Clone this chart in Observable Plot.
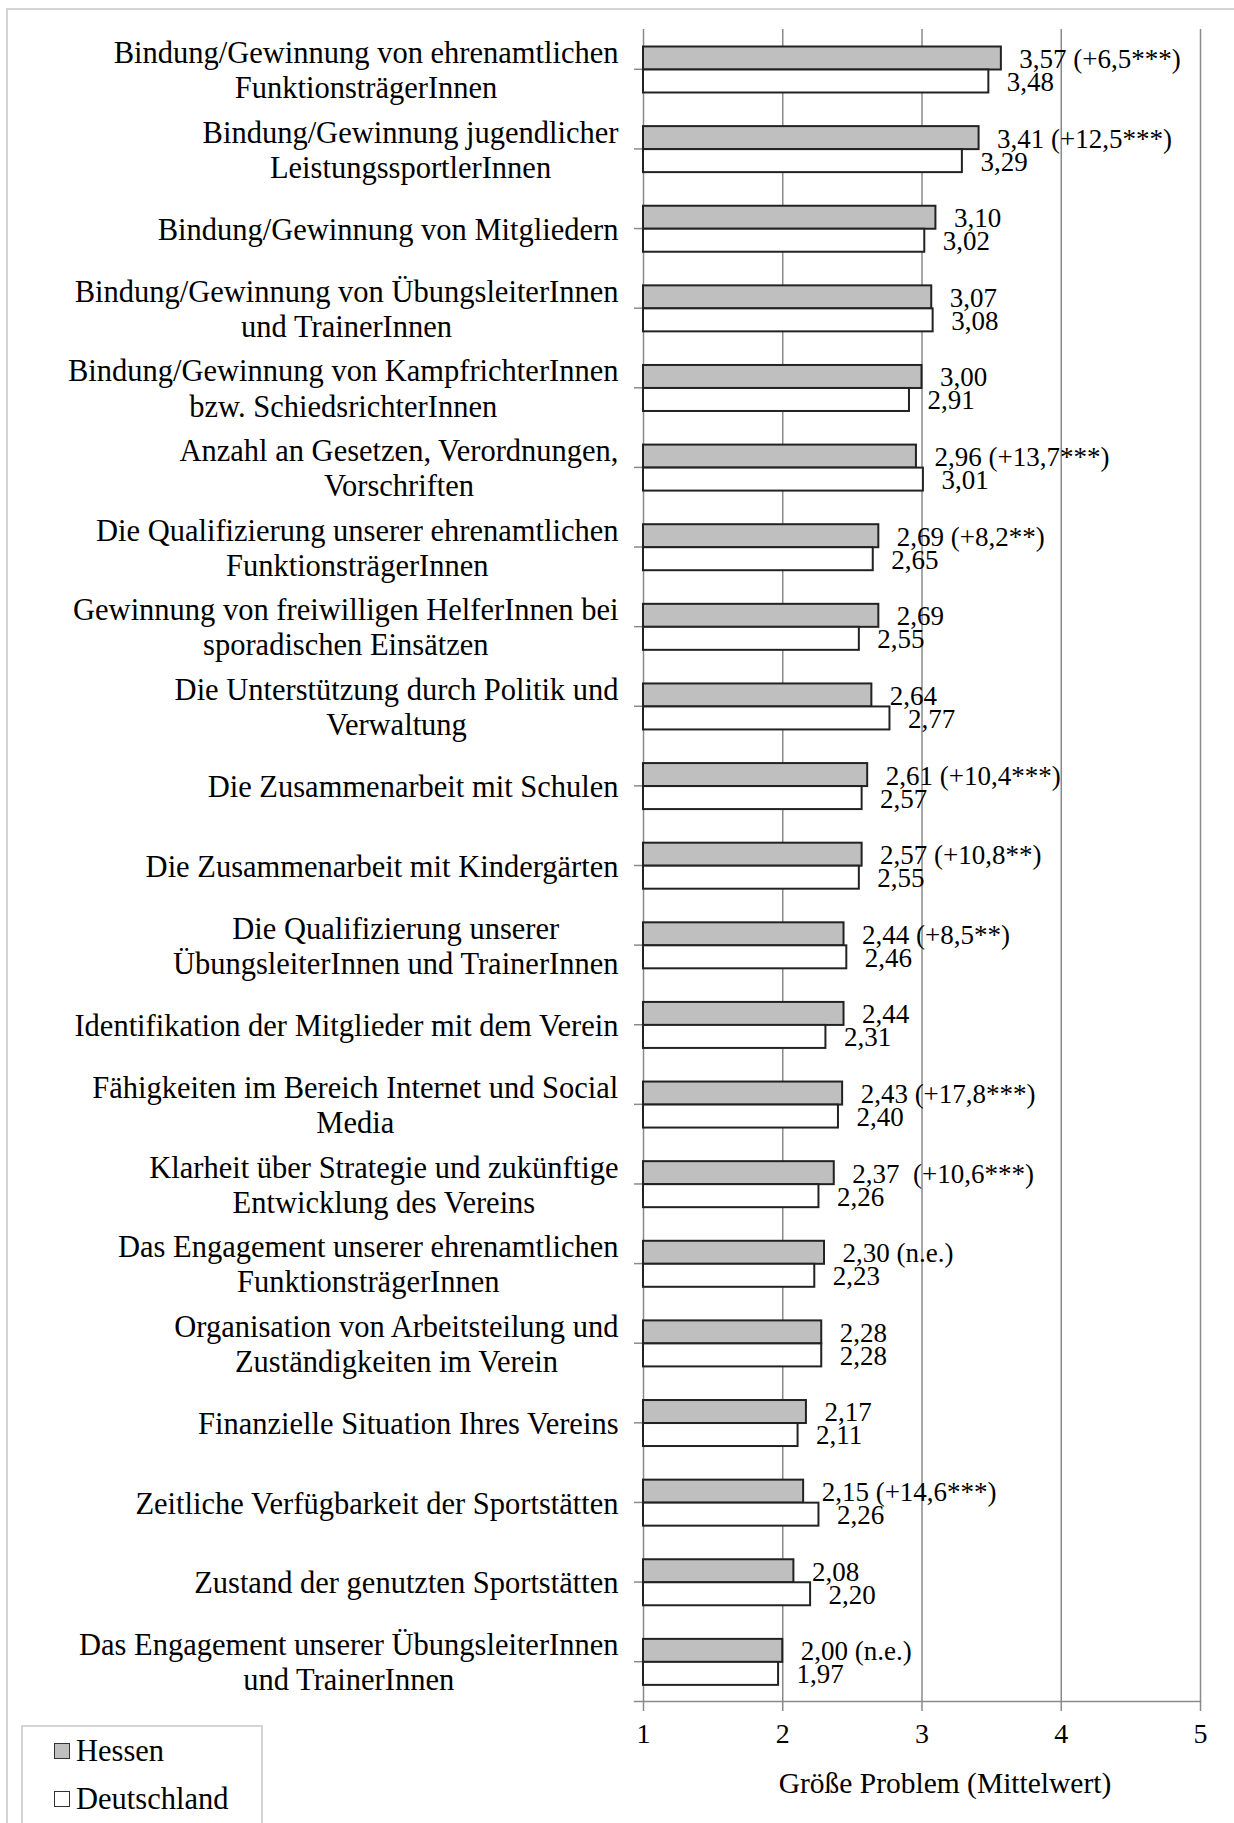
<!DOCTYPE html>
<html>
<head>
<meta charset="utf-8">
<script src="https://cdn.jsdelivr.net/npm/d3@7"></script>
<script src="https://cdn.jsdelivr.net/npm/@observablehq/plot@0.6"></script>
<style>
  html, body { margin: 0; padding: 0; background: #fff; }
  #wrap { position: relative; width: 1234px; height: 1823px; overflow: hidden; }
  #outer { position: absolute; left: 6px; top: 8px; width: 1400px; height: 2000px;
           border-left: 2px solid #d4d4d4; border-top: 2px solid #d4d4d4; }
  #chart { position: absolute; left: 0; top: 0; }
  #legend { position: absolute; left: 21px; top: 1725px; width: 238px; height: 160px;
            border: 2px solid #d4d4d4; background: #fff;
            font-family: "Liberation Serif", "Times New Roman", serif; font-size: 30.5px; color: #000; }
  .row { position: absolute; left: 31px; height: 34px; display: flex; align-items: center; }
  .sw { width: 14px; height: 14px; border: 1.5px solid #333; margin-right: 6px; }
</style>
</head>
<body>
<div id="wrap">
  <div id="outer"></div>
  <div id="chart"></div>
  <div id="legend"></div>
</div>
<script>
const categories = [
  "Bindung/Gewinnung von ehrenamtlichen\nFunktionsträgerInnen",
  "Bindung/Gewinnung jugendlicher\nLeistungssportlerInnen",
  "Bindung/Gewinnung von Mitgliedern",
  "Bindung/Gewinnung von ÜbungsleiterInnen\nund TrainerInnen",
  "Bindung/Gewinnung von KampfrichterInnen\nbzw. SchiedsrichterInnen",
  "Anzahl an Gesetzen, Verordnungen,\nVorschriften",
  "Die Qualifizierung unserer ehrenamtlichen\nFunktionsträgerInnen",
  "Gewinnung von freiwilligen HelferInnen bei\nsporadischen Einsätzen",
  "Die Unterstützung durch Politik und\nVerwaltung",
  "Die Zusammenarbeit mit Schulen",
  "Die Zusammenarbeit mit Kindergärten",
  "Die Qualifizierung unserer\nÜbungsleiterInnen und TrainerInnen",
  "Identifikation der Mitglieder mit dem Verein",
  "Fähigkeiten im Bereich Internet und Social\nMedia",
  "Klarheit über Strategie und zukünftige\nEntwicklung des Vereins",
  "Das Engagement unserer ehrenamtlichen\nFunktionsträgerInnen",
  "Organisation von Arbeitsteilung und\nZuständigkeiten im Verein",
  "Finanzielle Situation Ihres Vereins",
  "Zeitliche Verfügbarkeit der Sportstätten",
  "Zustand der genutzten Sportstätten",
  "Das Engagement unserer ÜbungsleiterInnen\nund TrainerInnen"
];
const hessen = [3.57, 3.41, 3.10, 3.07, 3.00, 2.96, 2.69, 2.69, 2.64, 2.61, 2.57, 2.44, 2.44, 2.43, 2.37, 2.30, 2.28, 2.17, 2.15, 2.08, 2.00];
const deutschland = [3.48, 3.29, 3.02, 3.08, 2.91, 3.01, 2.65, 2.55, 2.77, 2.57, 2.55, 2.46, 2.31, 2.40, 2.26, 2.23, 2.28, 2.11, 2.26, 2.20, 1.97];
const hessenNotes = [" (+6,5***)", " (+12,5***)", "", "", "", " (+13,7***)", " (+8,2**)", "", "", " (+10,4***)", " (+10,8**)", " (+8,5**)", "", " (+17,8***)", "  (+10,6***)", " (n.e.)", "", "", " (+14,6***)", "", " (n.e.)"];
const seriesNames = ["Hessen", "Deutschland"];
const seriesFill = ["#bfbfbf", "#ffffff"];
const xDomain = [1, 5];
const xTicks = [1, 2, 3, 4, 5];
const xLabel = "Größe Problem (Mittelwert)";

const rowsH = categories.map((c, i) => ({category: c, value: hessen[i], note: hessenNotes[i]}));
const rowsD = categories.map((c, i) => ({category: c, value: deutschland[i], note: ""}));

const W = 1234, H = 1823, mL = 643, mR = 34, mT = 29, mB = 122;
const step = (H - mT - mB) / categories.length;
const barH = 23, gapTop = 17.5;
const fmt = v => v.toFixed(2).replace(".", ",");
const grid = "#8a8a8a";
const font = "'Liberation Serif', 'Times New Roman', serif";

const plot = Plot.plot({
  width: W, height: H,
  marginLeft: mL, marginRight: mR, marginTop: mT, marginBottom: mB,
  style: {fontFamily: font, fontSize: "27px", color: "#000", background: "transparent", overflow: "visible"},
  x: {domain: xDomain, ticks: xTicks},
  y: {domain: categories, padding: 0, round: false, label: null},
  marks: [
    Plot.gridX(xTicks, {stroke: grid, strokeOpacity: 1, strokeWidth: 1.5}),
    Plot.tickY(categories, {y: d => d, stroke: grid, strokeWidth: 1.5, dx: -9, insetRight: (W - mL - mR) - 9}),
    Plot.frame({anchor: "bottom", stroke: grid, strokeWidth: 1.5, insetLeft: -9}),
    Plot.barX(rowsH, {y: "category", x1: xDomain[0], x2: "value", fill: seriesFill[0], stroke: "#222", strokeWidth: 2,
      insetTop: gapTop, insetBottom: step - gapTop - barH}),
    Plot.barX(rowsD, {y: "category", x1: xDomain[0], x2: "value", fill: seriesFill[1], stroke: "#222", strokeWidth: 2,
      insetTop: gapTop + barH, insetBottom: step - gapTop - 2 * barH}),
    Plot.text(rowsH, {y: "category", x: "value", text: d => fmt(d.value) + d.note, textAnchor: "start", dx: 18, dy: -10, fontSize: 27, fill: "#000"}),
    Plot.text(rowsD, {y: "category", x: "value", text: d => fmt(d.value), textAnchor: "start", dx: 18, dy: 13, fontSize: 27, fill: "#000"}),
    Plot.axisX({ticks: xTicks, tickSize: 10, tickPadding: 12, stroke: grid, strokeWidth: 1.5, label: null, fontSize: 28, tickFormat: d => String(d)}),
    Plot.axisY({tickSize: 0, tickPadding: 25, label: null, fontSize: 30.5, lineHeight: 1.15, lineWidth: Infinity, textAnchor: "end"}),
    Plot.text([xLabel], {text: d => d, frameAnchor: "bottom", dy: 91, dx: 23, fontSize: 29.5, fill: "#000"})
  ]
});

document.getElementById("chart").append(plot);

// Excel-style category labels: lines centred within a right-aligned block
plot.querySelectorAll('g[aria-label="y-axis tick label"] text').forEach(t => {
  const w = t.getBBox().width;
  t.setAttribute("text-anchor", "middle");
  const spans = t.querySelectorAll("tspan");
  if (spans.length) spans.forEach(s => s.setAttribute("x", -w / 2));
  else t.setAttribute("x", -w / 2);
});

const legend = document.getElementById("legend");
seriesNames.forEach((name, i) => {
  const row = document.createElement("div");
  row.className = "row";
  row.style.top = (7 + i * 48) + "px";
  const sw = document.createElement("div");
  sw.className = "sw";
  sw.style.background = seriesFill[i];
  const label = document.createElement("span");
  label.textContent = name;
  row.append(sw, label);
  legend.append(row);
});
</script>
</body>
</html>
